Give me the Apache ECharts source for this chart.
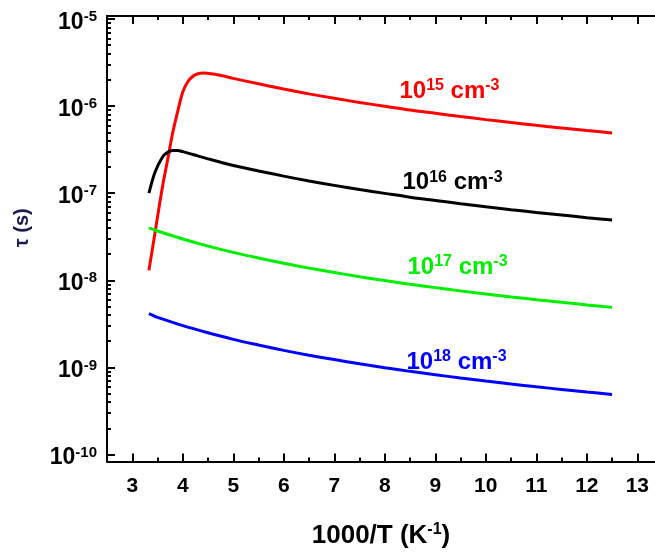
<!DOCTYPE html>
<html>
<head>
<meta charset="utf-8">
<script src="https://cdn.jsdelivr.net/npm/echarts@6/dist/echarts.min.js"></script>
<style>
  html, body { margin: 0; padding: 0; background: #fff; }
  #chart { width: 655px; height: 554px; }
</style>
</head>
<body>
<div id="chart"></div>
<script>
// 1000/T (K^-1) and lifetime tau (s) for each doping level
const redX = [3.33, 3.45, 3.6, 3.7, 3.8, 3.9, 4.0, 4.1, 4.2, 4.3, 4.4, 4.6, 4.8, 5.0, 5.5, 6.0, 6.5, 7.0, 7.5, 8.0, 8.5, 9.0, 9.5, 10.0, 10.5, 11.0, 11.5, 12.0, 12.5]
const redTau = [1.3e-8, 3.5e-8, 1.2e-7, 2.4e-7, 4.9e-7, 8.7e-7, 1.45e-6, 1.9e-6, 2.2e-6, 2.35e-6, 2.4e-6, 2.34e-6, 2.22e-6, 2.08e-6, 1.8e-6, 1.57e-6, 1.38e-6, 1.23e-6, 1.1e-6, 9.95e-7, 9.0e-7, 8.26e-7, 7.58e-7, 6.99e-7, 6.47e-7, 6.01e-7, 5.61e-7, 5.24e-7, 4.91e-7]

const blackX = [3.33, 3.45, 3.6, 3.7, 3.8, 3.9, 4.0, 4.2, 4.5, 5.0, 5.5, 6.0, 6.5, 7.0, 7.5, 8.0, 8.5, 9.0, 9.5, 10.0, 10.5, 11.0, 11.5, 12.0, 12.5]
const blackTau = [1.0e-7, 1.74e-7, 2.6e-7, 2.95e-7, 3.1e-7, 3.1e-7, 3.0e-7, 2.78e-7, 2.48e-7, 2.08e-7, 1.8e-7, 1.57e-7, 1.38e-7, 1.23e-7, 1.1e-7, 9.95e-8, 9.0e-8, 8.26e-8, 7.58e-8, 6.99e-8, 6.47e-8, 6.01e-8, 5.61e-8, 5.24e-8, 4.91e-8]

const greenX = [3.33, 3.5, 4.0, 4.5, 5.0, 5.5, 6.0, 6.5, 7.0, 7.5, 8.0, 8.5, 9.0, 9.5, 10.0, 10.5, 11.0, 11.5, 12.0, 12.5]
const greenTau = [4.0e-8, 3.68e-8, 2.98e-8, 2.47e-8, 2.09e-8, 1.8e-8, 1.57e-8, 1.38e-8, 1.23e-8, 1.1e-8, 9.93e-9, 9.01e-9, 8.24e-9, 7.56e-9, 6.97e-9, 6.45e-9, 5.99e-9, 5.59e-9, 5.22e-9, 4.89e-9]

const blueX = [3.33, 3.5, 4.0, 4.5, 5.0, 5.5, 6.0, 6.5, 7.0, 7.5, 8.0, 8.5, 9.0, 9.5, 10.0, 10.5, 11.0, 11.5, 12.0, 12.5]
const blueTau = [4.15e-9, 3.75e-9, 3.02e-9, 2.5e-9, 2.1e-9, 1.81e-9, 1.57e-9, 1.38e-9, 1.23e-9, 1.1e-9, 9.93e-10, 9.01e-10, 8.24e-10, 7.56e-10, 6.97e-10, 6.45e-10, 5.99e-10, 5.59e-10, 5.22e-10, 4.89e-10]

const seriesNames = ['15', '16', '17', '18']   // exponent of the doping, cm^-3
const xTicks = [3, 4, 5, 6, 7, 8, 9, 10, 11, 12, 13]
const xMinorTicks = [3.5, 4.5, 5.5, 6.5, 7.5, 8.5, 9.5, 10.5, 11.5, 12.5]
const yDecades = [-10, -9, -8, -7, -6, -5]

// log axis drawn as a value axis over log10(tau)
const yMinor = []
yDecades.slice(0, -1).forEach(d => {
  for (let k = 2; k <= 9; k++) yMinor.push(d + Math.log10(k))
})

const toPts = (xs, ts) => xs.map((x, i) => [x, Math.log10(ts[i])])

const fontFam = 'Arial, "Liberation Sans", sans-serif'
const supRich = (color, big, small) => ({
  b: { fontSize: big, fontWeight: 'bold', color: color, fontFamily: fontFam, lineHeight: big + 3 },
  s: { fontSize: small, fontWeight: 'bold', color: color, fontFamily: fontFam, verticalAlign: 'top', lineHeight: small }
})

const xRange = { min: 2.5, max: 13.35 }
const yRange = { min: -10.08, max: -4.966 }

function xAxisCfg(pos, ticks, len, withLabels, withLine) {
  return {
    type: 'value', position: pos, ...xRange,
    axisLine: { show: withLine, onZero: false, lineStyle: { color: '#000', width: 2 } },
    axisTick: { show: true, inside: true, length: len, customValues: ticks, lineStyle: { color: '#000', width: 2 } },
    axisLabel: withLabels ? {
      show: true, customValues: ticks, margin: 14,
      fontSize: 21, fontWeight: 'bold', color: '#000', fontFamily: fontFam
    } : { show: false },
    splitLine: { show: false }
  }
}

function yAxisCfg(ticks, len, withLabels, withLine) {
  return {
    type: 'value', position: 'left', ...yRange,
    axisLine: { show: withLine, onZero: false, lineStyle: { color: '#000', width: 2 } },
    axisTick: { show: true, inside: true, length: len, customValues: ticks, lineStyle: { color: '#000', width: 2 } },
    axisLabel: withLabels ? {
      show: true, customValues: ticks, margin: 10, padding: [7, 0, 0, 0],
      formatter: v => `{b|10}{s|${Math.round(v)}}`,
      rich: supRich('#000', 23, 15)
    } : { show: false },
    splitLine: { show: false }
  }
}

const colors = ['#ff0000', '#000000', '#00ee00', '#0000ff']
const data = [toPts(redX, redTau), toPts(blackX, blackTau), toPts(greenX, greenTau), toPts(blueX, blueTau)]
const labelAt = [[8.29, -5.83], [8.35, -6.88], [8.45, -7.85], [8.43, -8.94]]

const chart = echarts.init(document.getElementById('chart'))
chart.setOption({
  animation: false,
  backgroundColor: '#fff',
  grid: { left: 107, right: 0, top: 16, bottom: 90, containLabel: false },
  xAxis: [
    {
      ...xAxisCfg('bottom', xTicks, 8, true, true),
      name: '{b|1000/T (K}{s|-1}{b|)}', nameLocation: 'middle', nameGap: 60,
      nameTextStyle: { rich: supRich('#000', 26, 16) }
    },
    xAxisCfg('bottom', xMinorTicks, 4, false, false),
    xAxisCfg('top', xTicks, 8, false, true),
    xAxisCfg('top', xMinorTicks, 4, false, false)
  ],
  yAxis: [
    {
      ...yAxisCfg(yDecades, 8, true, true),
      name: 'τ (s)', nameLocation: 'middle', nameGap: 75,
      nameTextStyle: { fontSize: 20, fontWeight: 'bold', color: '#1a1a50', fontFamily: fontFam, padding: [0, 0, 0, 22] }
    },
    yAxisCfg(yMinor, 4, false, false)
  ],
  series: data.map((pts, i) => ({
    type: 'line',
    name: seriesNames[i],
    data: pts,
    showSymbol: false,
    smooth: 0.3,
    lineStyle: { color: colors[i], width: 3 },
    markPoint: {
      symbol: 'circle', symbolSize: 0,
      data: [{ coord: labelAt[i] }],
      label: {
        show: true, position: 'right', distance: 0,
        formatter: `{b|10}{s|${seriesNames[i]}}{b| cm}{s|-3}`,
        rich: supRich(colors[i], 24, 16)
      }
    }
  }))
})
</script>
</body>
</html>
